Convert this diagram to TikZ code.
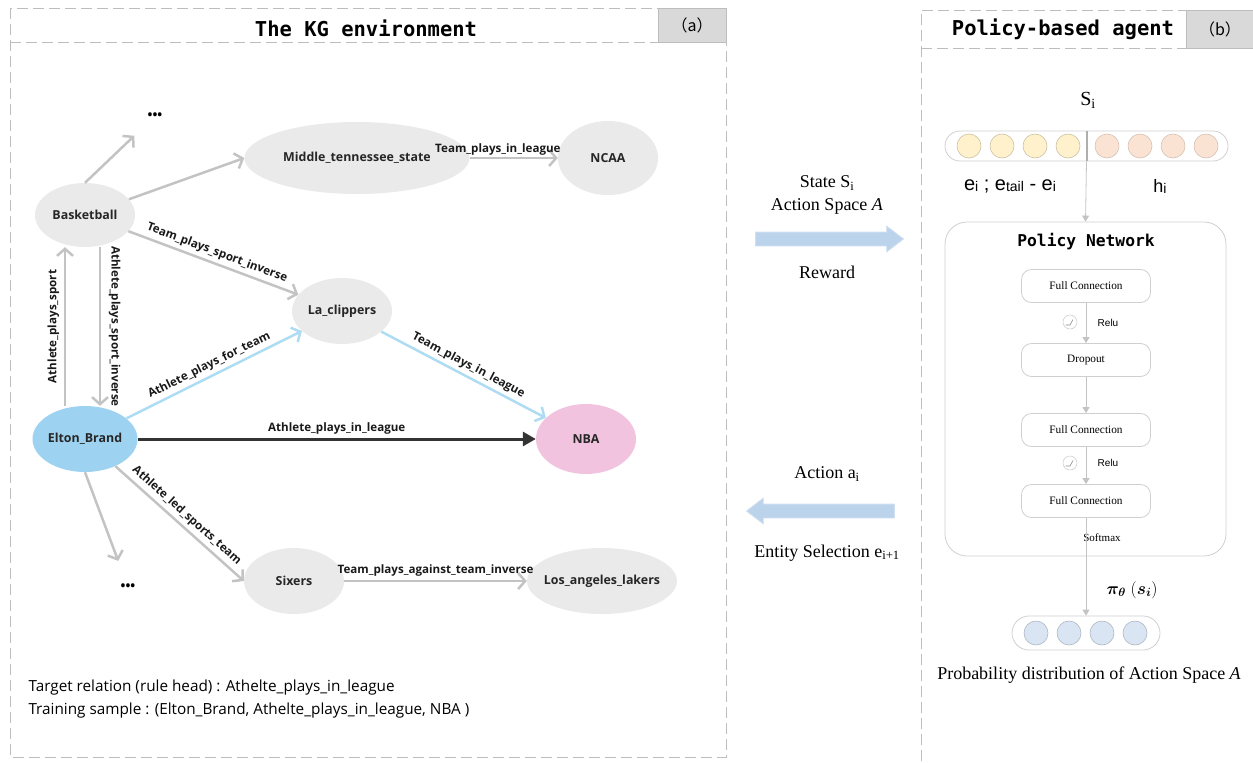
\documentclass[tikz,border=0pt]{standalone}
\usepackage{fontspec}
\usepackage{amsmath}
\usepackage{bm}
\usetikzlibrary{shapes.geometric,shapes.arrows,arrows.meta}
\setmainfont{Liberation Serif}
\newfontfamily\kgfont{Open Sans}
\newfontfamily\ttlfont{DejaVu Sans Mono}
\newfontfamily\arial{Liberation Sans}
\newfontfamily\cjk{Noto Sans CJK SC}
\newcommand{\lowsub}[1]{\raisebox{-1pt}{\fontsize{14}{14}\selectfont #1}}

\definecolor{kggray}{HTML}{EAEAEA}
\definecolor{eltonblue}{HTML}{9DD3F1}
\definecolor{nbapink}{HTML}{F1C3DF}
\definecolor{linkgray}{HTML}{C3C3C3}
\definecolor{linkblue}{HTML}{AEDCF3}
\definecolor{linkdark}{HTML}{333333}
\definecolor{framegray}{HTML}{BDBDBD}
\definecolor{tabgray}{HTML}{D9D9D9}
\definecolor{arrowblue}{HTML}{BCD3EC}
\definecolor{arrowedge}{HTML}{CFDFF0}
\definecolor{bargray}{HTML}{CFCFCF}
\definecolor{unityel}{HTML}{FFF1CC}
\definecolor{unitpch}{HTML}{FBE3D4}
\definecolor{unitblue}{HTML}{DAE5F3}

\begin{document}
\begin{tikzpicture}[x=1pt,y=-1pt,
    kgnode/.style={ellipse,fill=kggray,inner sep=0pt,minimum width=100pt,minimum height=64pt,
      text=black!85,font=\kgfont\bfseries\fontsize{12.4}{14}\selectfont},
    elabel/.style={inner sep=1.5pt,text=black!90,font=\kgfont\bfseries\fontsize{11.6}{13}\selectfont},
    dots/.style={inner sep=1pt,font=\kgfont\bfseries\fontsize{13}{13}\selectfont},
    glink/.style={draw=linkgray,line width=2.5pt,-{Straight Barb[length=7pt,width=16pt]}},
    blink/.style={glink,draw=linkblue},
    dlink/.style={draw=linkdark,line width=3pt,-{Triangle[length=13pt,width=14pt]}},
    framebox/.style={draw=framegray,dash pattern=on 11pt off 5pt,line width=0.9pt},
    tabbox/.style={fill=tabgray,draw=framegray,line width=0.6pt,inner sep=0pt,
      font=\cjk\fontsize{16}{18}\selectfont},
    ttl/.style={font=\ttlfont\bfseries\fontsize{20.5}{24}\selectfont},
    midtext/.style={font=\fontsize{18}{21}\selectfont},
    blockarr/.style={single arrow,fill=arrowblue,draw=arrowedge,line width=0.8pt,inner sep=0pt,
      text height=6.5pt,text depth=6.5pt,minimum height=148pt,minimum width=25pt,
      single arrow head extend=6pt,single arrow tip angle=75},
    unit/.style={circle,minimum size=24pt,inner sep=0pt,line width=0.6pt},
    layer/.style={draw=bargray,rounded corners=10pt,minimum width=129pt,minimum height=33pt,
      line width=0.8pt,font=\fontsize{11.3}{13}\selectfont},
    netarr/.style={draw=linkgray,line width=0.8pt,-{Triangle[length=6pt,width=7pt]}},
    reluico/.style={circle,draw=bargray,line width=0.6pt,minimum size=14pt,inner sep=0pt},
    smalltext/.style={font=\arial\fontsize{10}{12}\selectfont}]

  \useasboundingbox (0,0) rectangle (1253,763);

  % (a) the KG environment
  \draw[framebox] (10,8) rectangle (726,757);
  \draw[framebox] (10,42) -- (726,42);
  \node[tabbox,minimum width=68pt,minimum height=34pt] (taba) at (692,25) {（a）};
  \node[ttl] (titlea) at (366,28) {The KG environment};

  \node[kgnode] (bball) at (85,215) {Basketball};
  \node[kgnode,minimum width=225pt,minimum height=72pt] (mts) at (357,158) {Middle\_tennessee\_state};
  \node[kgnode,minimum height=74pt] (ncaa) at (608,158) {NCAA};
  \node[kgnode,minimum height=66pt] (clip) at (342,311) {La\_clippers};
  \node[kgnode,fill=eltonblue,minimum height=66pt] (elton) at (85,439) {Elton\_Brand};
  \node[kgnode,fill=nbapink,minimum height=70pt] (nba) at (586,439) {NBA};
  \node[kgnode,minimum height=66pt] (sixers) at (294,581) {Sixers};
  \node[kgnode,minimum width=150pt,minimum height=66pt,inner xsep=-10pt] (lakers) at (602,581) {Los\_angeles\_lakers};
  \node[dots] (dtop) at (155,116) {•••};
  \node[dots] (dbot) at (128,587) {•••};

  \draw[glink,shorten >=22pt] (bball.north) -- (dtop);
  \draw[glink] (bball) -- (mts.west);
  \draw[glink] (mts) -- node[elabel,above,pos=.32] {Team\_plays\_in\_league} (ncaa);
  \draw[glink] (bball) -- node[elabel,sloped,above=2pt] {Team\_plays\_sport\_inverse} (clip);
  \draw[glink] ([xshift=-20pt]elton.north) -- node[elabel,sloped,above=3pt] {Athlete\_plays\_sport} ([xshift=-20pt]bball.south);
  \draw[glink] ([xshift=15pt]bball.south) -- node[elabel,sloped,above=6pt] {Athlete\_plays\_sport\_inverse} ([xshift=15pt]elton.north);
  \draw[blink] (elton) -- node[elabel,sloped,above=2pt] {Athlete\_plays\_for\_team} (clip);
  \draw[blink] (clip) -- node[elabel,sloped,above=2pt] {Team\_plays\_in\_league} (nba);
  \draw[dlink] (elton) -- node[elabel,above=2pt] {Athlete\_plays\_in\_league} (nba);
  \draw[glink,shorten >=23pt] (elton.south) -- (dbot);
  \draw[glink] (elton) -- node[elabel,sloped,above=2pt] {Athlete\_led\_sports\_team} (sixers.west);
  \draw[glink] (sixers) -- node[elabel,above=2pt] {Team\_plays\_against\_team\_inverse} (lakers);

  \node[anchor=west,font=\kgfont\fontsize{15.3}{17}\selectfont] (target) at (25,688)
    {Target relation (rule head) : Athelte\_plays\_in\_league};
  \node[anchor=west,font=\kgfont\fontsize{15.3}{17}\selectfont] (sample) at (25,711)
    {Training sample : (Elton\_Brand, Athelte\_plays\_in\_league, NBA )};

  % interaction between environment and agent
  \node[midtext] (state) at (827,183) {State S\textsubscript{i}};
  \node[midtext] (aspace) at (827,206) {Action Space \textit{A}};
  \node[blockarr] (toagent) at (825,239) {};
  \node[midtext] (reward) at (827,272) {Reward};
  \node[midtext] (action) at (827,474) {Action a\textsubscript{i}};
  \node[blockarr,shape border rotate=180] (toenv) at (825,511) {};
  \node[midtext] (select) at (827,553) {Entity Selection e\textsubscript{i+1}};

  % (b) policy-based agent
  \draw[framebox] (1253,10) -- (921,10) -- (921,763);
  \draw[framebox] (921,48) -- (1253,48);
  \node[tabbox,minimum width=67pt,minimum height=38pt] (tabb) at (1220,29) {（b）};
  \node[ttl] (titleb) at (1063,29) {Policy-based agent};

  \node[font=\fontsize{20}{22}\selectfont] (slab) at (1088,100) {S\textsubscript{i}};
  \node[draw=bargray,rounded corners=15pt,minimum width=283pt,minimum height=30pt,inner sep=0pt,line width=0.8pt] (svec) at (1086.5,146) {};
  \foreach \i in {0,...,3} {
    \node[unit,fill=unityel,draw=unityel!80!black] (e\i) at ({969+33*\i},146) {};
    \node[unit,fill=unitpch,draw=unitpch!85!black] (h\i) at ({1107+33*\i},146) {};
  }
  \draw[draw=linkgray!90!black,line width=2pt] (svec.north) -- (svec.south);
  \node[font=\arial\fontsize{20}{22}\selectfont] (elab) at (1010,186)
    {e\lowsub{i} ; e\lowsub{tail} - e\lowsub{i}};
  \node[font=\arial\fontsize{18}{20}\selectfont] (hlab) at (1160,186) {h\lowsub{i}};

  \node[draw=bargray,rounded corners=22pt,minimum width=281pt,minimum height=334pt,line width=0.8pt] (pnet) at (1085.5,389) {};
  \draw[netarr] (svec.south) -- (pnet.north);
  \node[font=\ttlfont\bfseries\fontsize{16.3}{19}\selectfont] (ptitle) at (1086,242) {Policy Network};

  \node[layer] (fc1) at (1086,286) {Full Connection};
  \node[layer] (drop) at (1086,360) {Dropout};
  \node[layer] (fc2) at (1086,430) {Full Connection};
  \node[layer] (fc3) at (1086,501) {Full Connection};
  \draw[netarr] (fc1) -- (drop);
  \draw[netarr] (drop) -- (fc2);
  \draw[netarr] (fc2) -- (fc3);

  \node[reluico] (ico1) at (1070,322) {};
  \node[reluico] (ico2) at (1070,463) {};
  \foreach \n in {ico1,ico2}
    \draw[draw=black!45,line width=0.6pt] ([shift={(-4.5,3)}]\n.center) -- ++(4.5,0) -- ++(3,-5.5);
  \node[smalltext] (relu1) at (1108,323) {Relu};
  \node[smalltext] (relu2) at (1108,463) {Relu};
  \node[font=\fontsize{11}{13}\selectfont] (softmax) at (1102,538) {Softmax};

  \node[draw=bargray,rounded corners=17pt,minimum width=148pt,minimum height=34pt,inner sep=0pt,line width=0.8pt] (pvec) at (1086,633) {};
  \foreach \i in {0,...,3}
    \node[unit,fill=unitblue,draw=unitblue!80!black] (p\i) at ({1036+33*\i},633) {};
  \draw[netarr] (fc3) -- (pvec);
  \node[font=\fontsize{17}{19}\selectfont] (pilab) at (1132,590) {$\bm{\pi_\theta}\;(\bm{s_i})$};
  \node[midtext] (problab) at (1089,675) {Probability distribution of Action Space \textit{A}};
\end{tikzpicture}
\end{document}
